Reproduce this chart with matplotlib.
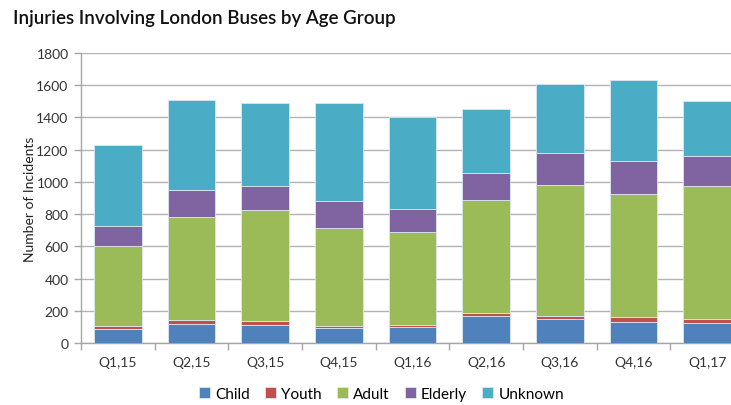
import numpy as np
import matplotlib
matplotlib.use("Agg")
from matplotlib import pyplot as plt
from matplotlib.ticker import FixedLocator

quarters = ["Q1,15", "Q2,15", "Q3,15", "Q4,15", "Q1,16", "Q2,16", "Q3,16", "Q4,16", "Q1,17"]
child = [87, 118, 112, 91, 100, 166, 151, 131, 124]
youth = [21, 27, 25, 15, 12, 19, 15, 29, 27]
adult = [493, 637, 686, 605, 574, 705, 813, 763, 822]
elderly = [125, 168, 154, 170, 146, 168, 201, 205, 188]
unknown = [506, 556, 512, 608, 568, 396, 425, 504, 343]

series = [("Child", child, "#4F81BD"),
          ("Youth", youth, "#C0504D"),
          ("Adult", adult, "#9BBB59"),
          ("Elderly", elderly, "#8064A2"),
          ("Unknown", unknown, "#4BACC6")]

plt.rcParams["font.family"] = ["Lato", "DejaVu Sans"]

fig = plt.figure(figsize=(7.31, 4.06), dpi=100)
# plot area runs past the right edge, as in the original crop
ax = fig.add_axes([0.1108, 0.1527, 0.907, 0.7143])

x = np.arange(len(quarters))
bottom = np.zeros(len(quarters))
for name, vals, color in series:
    ax.bar(x, vals, 0.65, bottom=bottom, color=color, label=name,
           edgecolor="#dde6f0", linewidth=0.6, zorder=3)
    bottom += np.array(vals)

ax.set_xlim(-0.5, len(quarters) - 0.5)
ax.set_ylim(0, 1800)
ax.set_yticks(range(0, 1801, 200))
ax.set_xticks(x)
ax.set_xticklabels(quarters, fontsize=10, color="#333333")
ax.xaxis.set_minor_locator(FixedLocator(np.arange(-0.5, len(quarters), 1)))
ax.tick_params(axis="x", which="major", length=0, pad=9)
ax.tick_params(axis="x", which="minor", length=5, color="#a6a6a6", width=1)
ax.tick_params(axis="y", length=5, color="#a6a6a6", width=1, labelsize=10,
               labelcolor="#333333", pad=4)

ax.grid(axis="y", color="#b3b3b3", linewidth=1, zorder=0)
for side in ["top", "right"]:
    ax.spines[side].set_visible(False)
for side in ["left", "bottom"]:
    ax.spines[side].set_color("#a6a6a6")
    ax.spines[side].set_linewidth(1)

ax.set_ylabel("Number of Incidents", fontsize=10, color="#222222", labelpad=0)
fig.text(0.018, 0.955, "Injuries Involving London Buses by Age Group",
         fontsize=13.5, fontweight="semibold", va="center", ha="left", color="#111111")

fig.legend(loc="center", bbox_to_anchor=(0.522, 0.027), ncol=5, frameon=False,
           fontsize=11, handlelength=0.7, handleheight=0.7, handletextpad=0.35,
           columnspacing=1.0)

fig.savefig("out.png", dpi=100)
